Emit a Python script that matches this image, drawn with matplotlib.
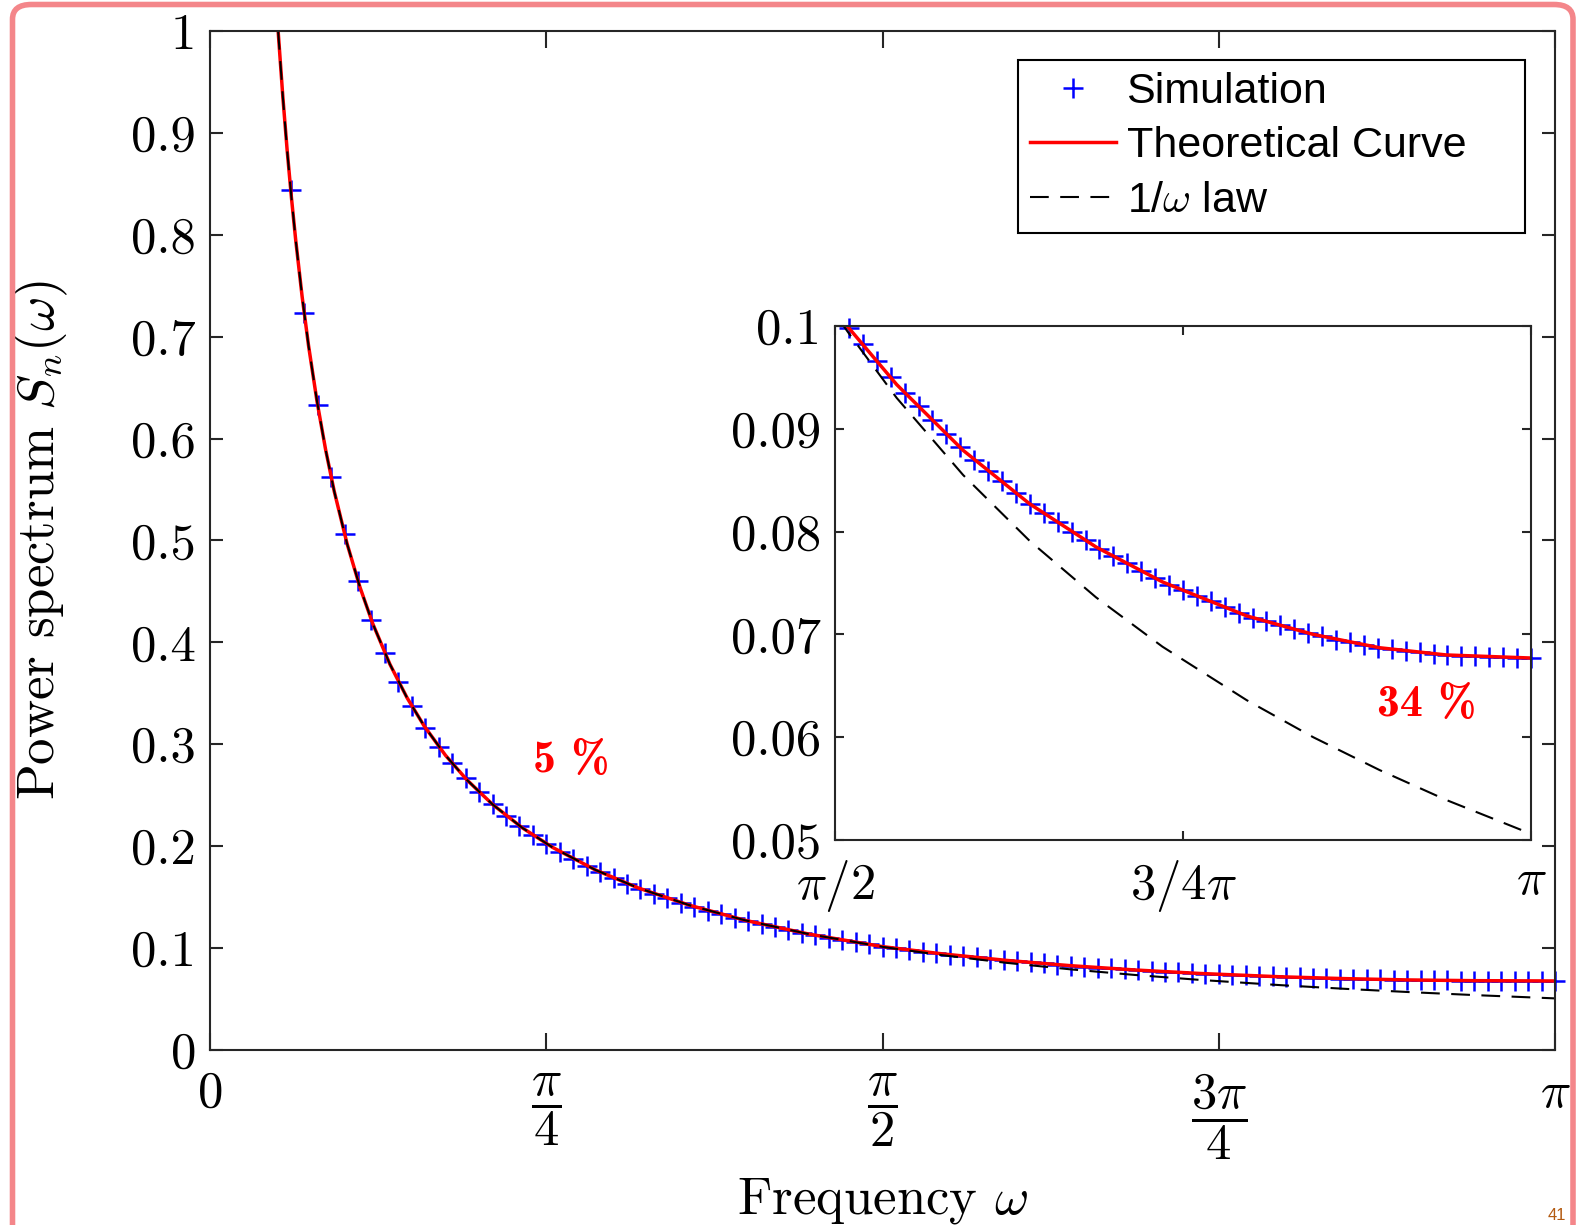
import numpy as np
import matplotlib
matplotlib.use('Agg')
import matplotlib.pyplot as plt
from matplotlib.patches import FancyBboxPatch

plt.rcParams['font.family'] = 'serif'
plt.rcParams['font.serif'] = ['cmr10']
plt.rcParams['mathtext.fontset'] = 'cm'
plt.rcParams['axes.unicode_minus'] = False

# simulated spectrum, sampled every pi/100 (first point inside the y range is k=6)
sim_k = np.arange(6, 101)
sim_omega = sim_k * np.pi / 100
sim_values = [0.8435, 0.7230, 0.6326, 0.5623, 0.5061, 0.4601, 0.4218, 0.3893, 0.3615, 0.3374,
              0.3163, 0.2977, 0.2812, 0.2664, 0.2531, 0.2410, 0.2300, 0.2200, 0.2109, 0.2024,
              0.1947, 0.1874, 0.1808, 0.1745, 0.1687, 0.1633, 0.1582, 0.1534, 0.1489, 0.1446,
              0.1406, 0.1368, 0.1332, 0.1298, 0.1265, 0.1234, 0.1205, 0.1177, 0.1150, 0.1126,
              0.1102, 0.1079, 0.1057, 0.1035, 0.1014,
              0.0998, 0.0982, 0.0966, 0.0950, 0.0935, 0.0922, 0.0909, 0.0895, 0.0882, 0.0870,
              0.0859, 0.0849, 0.0838, 0.0827, 0.0818, 0.0809, 0.0800, 0.0792, 0.0783, 0.0776,
              0.0769, 0.0762, 0.0755, 0.0748, 0.0743, 0.0737, 0.0732, 0.0727, 0.0721, 0.0716,
              0.0713, 0.0709, 0.0705, 0.0701, 0.0698, 0.0695, 0.0693, 0.0690, 0.0687, 0.0686,
              0.0684, 0.0683, 0.0681, 0.0680, 0.0679, 0.0679, 0.0678, 0.0678, 0.0677, 0.0677]

# theoretical curve and 1/omega law
curve_omega = [0.159, 0.17, 0.18, 0.19, 0.20, 0.215, 0.23, 0.25, 0.27, 0.29,
               0.32, 0.35, 0.38, 0.42, 0.46, 0.50, 0.55, 0.60, 0.66, 0.73,
               0.80, 0.90, 1.00, 1.12, 1.25, 1.40, 1.5708, 1.60, 1.71, 1.86,
               2.01, 2.16, 2.31, 2.50, 2.65, 2.80, 2.95, 3.1416]
theory_values = [1.000, 0.9353, 0.8833, 0.8368, 0.7950, 0.7395, 0.6913, 0.6360, 0.5889, 0.5483,
                 0.4969, 0.4543, 0.4184, 0.3786, 0.3457, 0.3180, 0.2891, 0.2650, 0.2409, 0.2178,
                 0.1988, 0.1767, 0.1590, 0.1420, 0.1272, 0.1136, 0.1014, 0.0999, 0.0943, 0.0879,
                 0.0827, 0.0785, 0.0751, 0.0718, 0.0700, 0.0687, 0.0680, 0.0677]
law_values = [1.000, 0.9353, 0.8833, 0.8368, 0.7950, 0.7395, 0.6913, 0.6360, 0.5889, 0.5483,
              0.4969, 0.4543, 0.4184, 0.3786, 0.3457, 0.3180, 0.2891, 0.2650, 0.2409, 0.2178,
              0.1988, 0.1767, 0.1590, 0.1420, 0.1272, 0.1136, 0.1012, 0.0994, 0.0930, 0.0855,
              0.0791, 0.0736, 0.0688, 0.0636, 0.0600, 0.0568, 0.0539, 0.0506]

main_xticks = [0, np.pi / 4, np.pi / 2, 3 * np.pi / 4, np.pi]
main_xlabels = ['$0$', r'$\dfrac{\pi}{4}$', r'$\dfrac{\pi}{2}$', r'$\dfrac{3\pi}{4}$', r'$\pi$']
main_yticks = [0, 0.1, 0.2, 0.3, 0.4, 0.5, 0.6, 0.7, 0.8, 0.9, 1.0]
main_ylabels = ['0', '0.1', '0.2', '0.3', '0.4', '0.5', '0.6', '0.7', '0.8', '0.9', '1']
inset_xticks = [np.pi / 2, 3 * np.pi / 4, np.pi]
inset_xlabels = [r'$\pi/2$', r'$3/4\pi$', r'$\pi$']
inset_yticks = [0.05, 0.06, 0.07, 0.08, 0.09, 0.1]
inset_ylabels = ['0.05', '0.06', '0.07', '0.08', '0.09', '0.1']

fig = plt.figure(figsize=(15.77, 12.25), dpi=100)
ax = fig.add_axes([0.1332, 0.1429, 0.8529, 0.8318])

ax.plot(sim_omega, sim_values, linestyle='none', marker='+', color='blue',
        markersize=15, markeredgewidth=1.8, clip_on=False, label='Simulation')
ax.plot(curve_omega, theory_values, color='red', linewidth=2.5, label='Theoretical Curve')
ax.plot(curve_omega, law_values, color='black', linewidth=1.5, dashes=(9, 5.5),
        label=r'1/$\omega$ law')

ax.set_xlim(0, np.pi)
ax.set_ylim(0, 1)
ax.set_xticks(main_xticks)
ax.set_xticklabels(main_xlabels)
ax.set_yticks(main_yticks)
ax.set_yticklabels(main_ylabels)
ax.tick_params(direction='in', top=True, right=True, labelsize=36.5, width=1.5, color='#262626')
ax.tick_params(axis='x', length=12, pad=15)
ax.tick_params(axis='y', length=9.5, pad=10)
for s in ax.spines.values():
    s.set_linewidth(1.5)
    s.set_color('#262626')
ax.set_xlabel(r'Frequency $\omega$', fontsize=38, labelpad=10)
ax.set_ylabel(r'Power spectrum $S_n(\omega)$', fontsize=38, labelpad=44)

ax.text(0.843, 0.284, '5 %', family='cmb10', color='red', fontsize=33,
        ha='center', va='center')

leg = ax.legend(loc='upper left', bbox_to_anchor=(0.6007, 0.6, 0.3773, 0.3715),
                mode='expand', borderaxespad=0,
                prop={'family': 'Liberation Sans', 'size': 31}, fancybox=False,
                framealpha=1, edgecolor='black', handlelength=2.0, handletextpad=0.25,
                labelspacing=0.34, borderpad=0.27)
leg.get_frame().set_linewidth(1.5)

# zoomed inset on the high-frequency half
ins = fig.add_axes([0.5295, 0.3143, 0.4413, 0.4196])
in_range = np.array(sim_values) <= 0.1
ins.plot(sim_omega[in_range], np.array(sim_values)[in_range], linestyle='none', marker='+',
         color='blue', markersize=15, markeredgewidth=1.8, clip_on=False)
ins.plot(curve_omega, theory_values, color='red', linewidth=2.5)
ins.plot(curve_omega, law_values, color='black', linewidth=1.5, dashes=(9, 5.5))
ins.set_xlim(np.pi / 2, np.pi)
ins.set_ylim(0.05, 0.1)
ins.set_xticks(inset_xticks)
ins.set_xticklabels(inset_xlabels)
ins.set_yticks(inset_yticks)
ins.set_yticklabels(inset_ylabels)
ins.tick_params(direction='in', top=True, right=True, labelsize=36.5, length=6.5,
                width=1.5, color='#262626')
ins.tick_params(axis='x', pad=13)
ins.tick_params(axis='y', pad=10)
for s in ins.spines.values():
    s.set_linewidth(1.5)
    s.set_color('#262626')
ins.text(2.9066, 0.0632, '34 %', family='cmb10', color='red', fontsize=33,
         ha='center', va='center')

# slide frame and page number
frame = FancyBboxPatch((12.5 / 1577, -0.05), (1573 - 12.5) / 1577, 1.05 - 4.5 / 1225,
                       boxstyle='round,pad=0,rounding_size=0.012', transform=fig.transFigure,
                       facecolor='none', edgecolor='#f4868a', linewidth=4, zorder=10)
fig.patches.append(frame)
fig.text(1566 / 1577, 2 / 1225, '41', color='#b35a10', fontsize=12,
         family='Liberation Sans', ha='right', va='bottom', zorder=11)

fig.savefig('out.png', dpi=100)
